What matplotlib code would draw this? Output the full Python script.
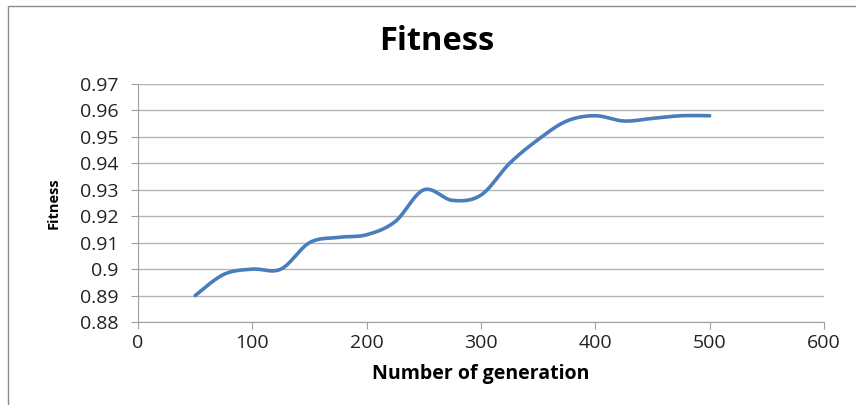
import numpy as np
import matplotlib.pyplot as plt
from matplotlib.patches import Rectangle

# generation -> best fitness
generations = [50, 75, 100, 125, 150, 175, 200, 225, 250, 275, 300,
               325, 350, 375, 400, 425, 450, 475, 500]
fitness = [0.890, 0.898, 0.900, 0.900, 0.910, 0.912, 0.913, 0.918, 0.930, 0.926, 0.928,
           0.940, 0.949, 0.956, 0.958, 0.956, 0.957, 0.958, 0.958]
x_ticks = [0, 100, 200, 300, 400, 500, 600]
y_ticks = [0.88, 0.89, 0.9, 0.91, 0.92, 0.93, 0.94, 0.95, 0.96, 0.97]
y_tick_labels = ["0.88", "0.89", "0.9", "0.91", "0.92", "0.93", "0.94", "0.95", "0.96", "0.97"]


def smooth_line(x, y, steps=30):
    """Catmull-Rom style smoothing, like a spreadsheet 'smoothed line'."""
    x = np.asarray(x, float)
    y = np.asarray(y, float)
    px = np.concatenate([[x[0]], x, [x[-1]]])
    py = np.concatenate([[y[0]], y, [y[-1]]])
    xs, ys = [], []
    t = np.linspace(0, 1, steps)
    for i in range(1, len(px) - 2):
        p0, p1, p2, p3 = (np.array([px[j], py[j]]) for j in (i - 1, i, i + 1, i + 2))
        c1 = p1 + (p2 - p0) / 6
        c2 = p2 - (p3 - p1) / 6
        b = ((1 - t) ** 3)[:, None] * p1 + (3 * (1 - t) ** 2 * t)[:, None] * c1 \
            + (3 * (1 - t) * t ** 2)[:, None] * c2 + (t ** 3)[:, None] * p2
        xs.extend(b[:, 0])
        ys.extend(b[:, 1])
    return xs, ys


plt.rcParams['font.family'] = ['Open Sans', 'DejaVu Sans']

fig = plt.figure(figsize=(8.56, 4.05), dpi=100)
fig.patches.append(Rectangle((8 / 856, -0.1), 1.2, 1.1 - 6 / 405, transform=fig.transFigure,
                             fill=False, edgecolor='#8c8c8c', linewidth=1.0))

ax = fig.add_axes([138 / 856, 83 / 405, 686 / 856, 238 / 405])
sx, sy = smooth_line(generations, fitness)
ax.plot(sx, sy, color='#4a7ebb', linewidth=2.6, solid_capstyle='round', zorder=3)

ax.set_xlim(0, 600)
ax.set_ylim(0.88, 0.97)
ax.set_xticks(x_ticks)
ax.set_yticks(y_ticks)
ax.set_yticklabels(y_tick_labels)
ax.grid(axis='y', color='#b4b4b4', linewidth=1.0)
ax.set_axisbelow(True)
for side in ('top', 'right'):
    ax.spines[side].set_visible(False)
for side in ('left', 'bottom'):
    ax.spines[side].set_color('#a0a0a0')
ax.tick_params(axis='both', colors='#a0a0a0', labelcolor='#222222', labelsize=14,
               length=5, direction='out')
ax.tick_params(axis='y', pad=9)
ax.tick_params(axis='x', pad=4)

fig.text(437 / 856, 1 - 42 / 405, 'Fitness', fontsize=23.5, fontweight='bold',
         ha='center', va='center')
ax.set_xlabel('Number of generation', fontsize=14, fontweight='bold', labelpad=8)
ax.set_ylabel('Fitness', fontsize=10.5, fontweight='bold', labelpad=14)

fig.savefig('out.png', dpi=100)
